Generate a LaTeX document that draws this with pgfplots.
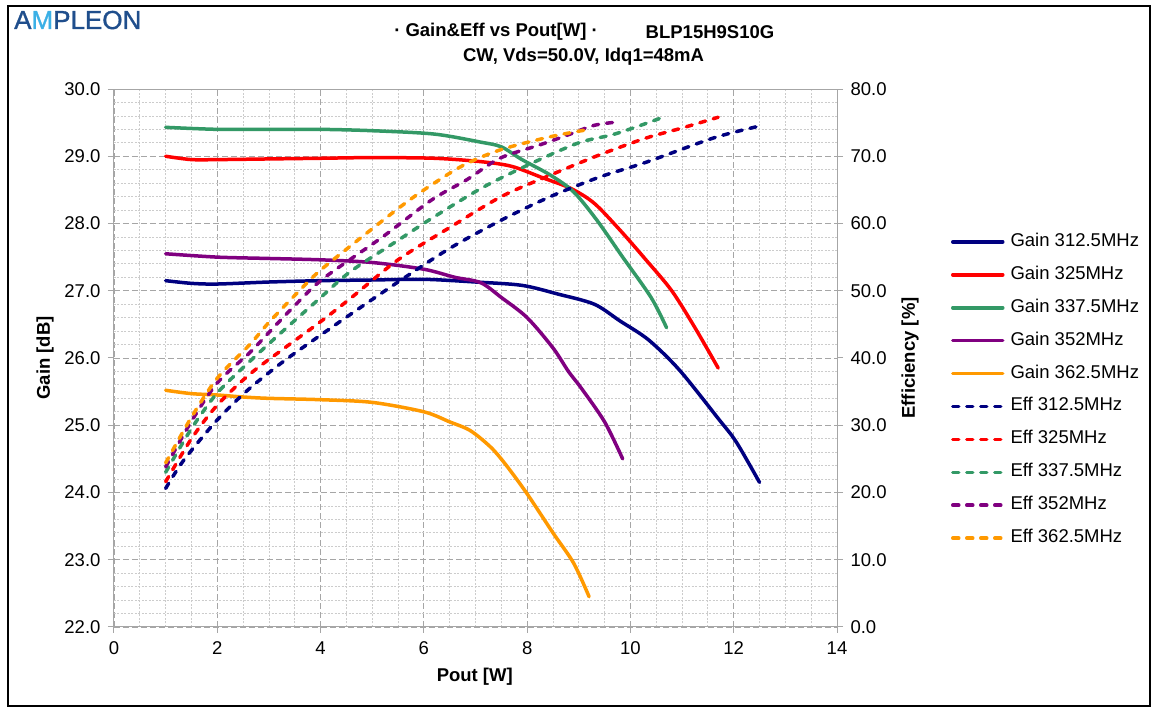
\documentclass[border=0pt]{standalone}
\usepackage{pgfplots}
\pgfplotsset{compat=1.18}
\usepackage{fontspec}
\setmainfont{Liberation Sans}
\newfontfamily\logofont[FakeBold=1.2]{Liberation Sans}
\definecolor{cNavy}{HTML}{000080}
\definecolor{cRed}{HTML}{FF0000}
\definecolor{cGreen}{HTML}{339966}
\definecolor{cPurple}{HTML}{800080}
\definecolor{cOrange}{HTML}{FF9900}
\definecolor{logoBlue}{HTML}{1F4E8C}
\definecolor{logoCyan}{HTML}{3BB0E6}
\definecolor{axgray}{HTML}{A6A6A6}
\newcommand{\fs}{\fontsize{18.5}{21}\selectfont}
\pgfplotsset{
  gainline/.style={solid, line width=3.5pt, line cap=round, line join=round, smooth, tension=0.5},
  effline/.style={line width=3.5pt, line cap=round, dash pattern=on 6pt off 8pt, smooth, tension=0.5},
  common/.style={
    at={(114pt,82pt)}, anchor=south west, scale only axis, width=723pt, height=538pt,
    xmin=0, xmax=14,
    axis line style={axgray, line width=1pt},
    tick style={axgray, line width=1pt},
    major tick length=6pt, minor tick length=0pt,
    tick align=outside,
    /pgf/number format/assume math mode=true,
    ticklabel style={font=\fs, text=black},
    label style={font=\fs\bfseries},
  }
}
\begin{document}
\begin{tikzpicture}
\useasboundingbox (0pt,0pt) rectangle (1152pt,709pt);
\fill[white] (0pt,0pt) rectangle (1152pt,709pt);
\draw[black, line width=1.3pt] (8pt,3pt) rectangle (1150pt,703pt);
\node[anchor=base west, inner sep=0pt, font=\logofont\fontsize{26}{28}\selectfont] at (14pt,680pt)
  {\textcolor{logoBlue}{A}\textcolor{logoCyan}{M}\textcolor{logoBlue}{PLEON}};
\node[font=\fs\bfseries, inner sep=0pt] at (496pt,677pt) {· Gain\&Eff vs Pout[W] ·};
\node[font=\fs\bfseries, inner sep=0pt] at (710pt,677pt) {BLP15H9S10G};
\node[font=\fs\bfseries, inner sep=0pt] at (583.5pt,652pt) {CW, Vds=50.0V, Idq1=48mA};

\begin{axis}[common,
  ymin=22, ymax=30,
  xtick={0,2,...,14}, ytick={22,23,...,30},
  minor x tick num=3, minor y tick num=4,
  xtick pos=bottom, ytick pos=left,
  grid=both,
  major grid style={color=axgray, line width=0.9pt, dash pattern=on 6pt off 3pt},
  minor grid style={color=gray!40, line width=0.8pt, dash pattern=on 2pt off 1.5pt},
  yticklabel={\pgfmathprintnumber[fixed,fixed zerofill,precision=1]{\tick}},
  yticklabel style={xshift=-4pt},
  xticklabel style={yshift=-5pt},
  xlabel={Pout [W]}, ylabel={Gain [dB]},
  xlabel style={at={(axis description cs:0.499,-0.093)}, anchor=center},
  ylabel style={at={(axis description cs:-0.0954,0.5)}, anchor=center},
]
\addplot[gainline, cNavy] coordinates {(1,27.15)(1.5,27.11)(2,27.1)(3,27.13)(4,27.15)(5,27.16)(6,27.17)(7,27.13)(7.9,27.08)(8.6,26.95)(9.3,26.8)(9.8,26.55)(10.35,26.27)(10.95,25.82)(11.7,25.1)(12.05,24.75)(12.5,24.15)};
\addplot[gainline, cRed] coordinates {(1,29.0)(1.5,28.95)(2,28.95)(3,28.96)(4,28.97)(5,28.98)(6.2,28.97)(7.1,28.92)(7.7,28.85)(8.3,28.68)(8.85,28.52)(9.3,28.3)(9.8,27.9)(10.3,27.46)(10.8,27.0)(11.25,26.45)(11.7,25.85)};
\addplot[gainline, cGreen] coordinates {(1,29.43)(2,29.4)(3,29.4)(4,29.4)(5,29.38)(6.2,29.33)(7.1,29.21)(7.5,29.14)(7.9,28.95)(8.45,28.72)(8.9,28.47)(9.35,28.05)(9.85,27.5)(10.4,26.9)(10.7,26.45)};
\addplot[gainline, cPurple] coordinates {(1,27.55)(2,27.5)(3,27.48)(4,27.46)(5,27.42)(6,27.32)(6.6,27.2)(7.1,27.12)(7.5,26.9)(8,26.6)(8.5,26.15)(8.8,25.8)(9.05,25.55)(9.5,25.05)(9.85,24.5)};
\addplot[gainline, cOrange] coordinates {(1,25.52)(1.5,25.47)(2,25.45)(2.5,25.42)(3,25.4)(4,25.38)(5,25.34)(6,25.2)(6.5,25.05)(6.9,24.92)(7.3,24.67)(7.6,24.4)(8,23.98)(8.5,23.4)(8.9,22.95)(9.2,22.45)};
\end{axis}

\begin{axis}[common,
  ymin=0, ymax=80, ytick={0,10,...,80},
  axis x line=none, axis y line*=right,
  yticklabel={\pgfmathprintnumber[fixed,fixed zerofill,precision=1]{\tick}},
  yticklabel style={xshift=4pt},
  ylabel={Efficiency [\%]},
  ylabel style={at={(axis description cs:1.101,0.5)}, anchor=center},
  legend image code/.code={\draw[#1] (0pt,0pt) -- (50pt,0pt);},
  legend cell align=left,
  legend style={at={(axis description cs:1.1577,0.4405)}, anchor=west, draw=none, fill=none,
    inner sep=0pt, outer sep=0pt, row sep=13.9pt, column sep=6pt,
    font=\fs, nodes={text height=14pt, text depth=5pt, inner sep=0pt}},
]
\addlegendimage{gainline, cNavy}\addlegendentry{Gain 312.5MHz}
\addlegendimage{gainline, cRed}\addlegendentry{Gain 325MHz}
\addlegendimage{gainline, cGreen}\addlegendentry{Gain 337.5MHz}
\addlegendimage{gainline, cPurple}\addlegendentry{Gain 352MHz}
\addlegendimage{gainline, cOrange}\addlegendentry{Gain 362.5MHz}
\addplot[effline, cNavy] coordinates {(1,20.6)(1.35,24.8)(2,30.8)(2.6,35.3)(3.3,39.6)(4.0,43.4)(4.6,46.6)(5.5,51.3)(6.5,56.3)(7.5,60.5)(8.45,64.0)(9.4,66.9)(10.3,69.1)(11.6,72.7)(12.45,74.4)};
\addlegendentry{Eff 312.5MHz}
\addplot[effline, cRed] coordinates {(1,21.6)(1.5,28)(2,33.0)(2.63,37.6)(3.27,41.3)(4,45.4)(4.6,49)(5.5,54.6)(6.5,59.4)(7.5,64.0)(8.45,67.2)(9.4,70.2)(10.3,72.7)(11,74.2)(11.7,75.8)};
\addlegendentry{Eff 325MHz}
\addplot[effline, cGreen] coordinates {(1,23.0)(1.5,29.5)(2,34.8)(2.63,39.5)(3.27,44.0)(3.93,48.5)(4.57,52.8)(5.5,57.5)(6.2,61)(7.15,65.4)(8.1,69)(9.0,72.0)(9.65,73.2)(10.2,74.6)(10.7,76.0)};
\addlegendentry{Eff 337.5MHz}
\addplot[effline, cPurple] coordinates {(1,23.8)(1.5,30.6)(2,36.3)(2.63,40.8)(3.0,43.8)(3.5,47.8)(4.05,51.8)(5.2,58)(6.15,63.5)(6.83,66.5)(7.47,69.7)(8.25,71.7)(8.8,73.2)(9.3,74.6)(9.76,75.1)};
\addlegendentry{Eff 352MHz}
\addplot[effline, cOrange] coordinates {(1,24.4)(1.5,31.2)(2,37)(2.63,42)(3.0,45.3)(3.5,49.3)(3.93,52.6)(4.57,56.6)(5.6,62.8)(6.2,66.0)(6.8,68.8)(7.5,71.0)(8.45,72.9)(9.2,74.0)};
\addlegendentry{Eff 362.5MHz}
\end{axis}
\end{tikzpicture}
\end{document}
